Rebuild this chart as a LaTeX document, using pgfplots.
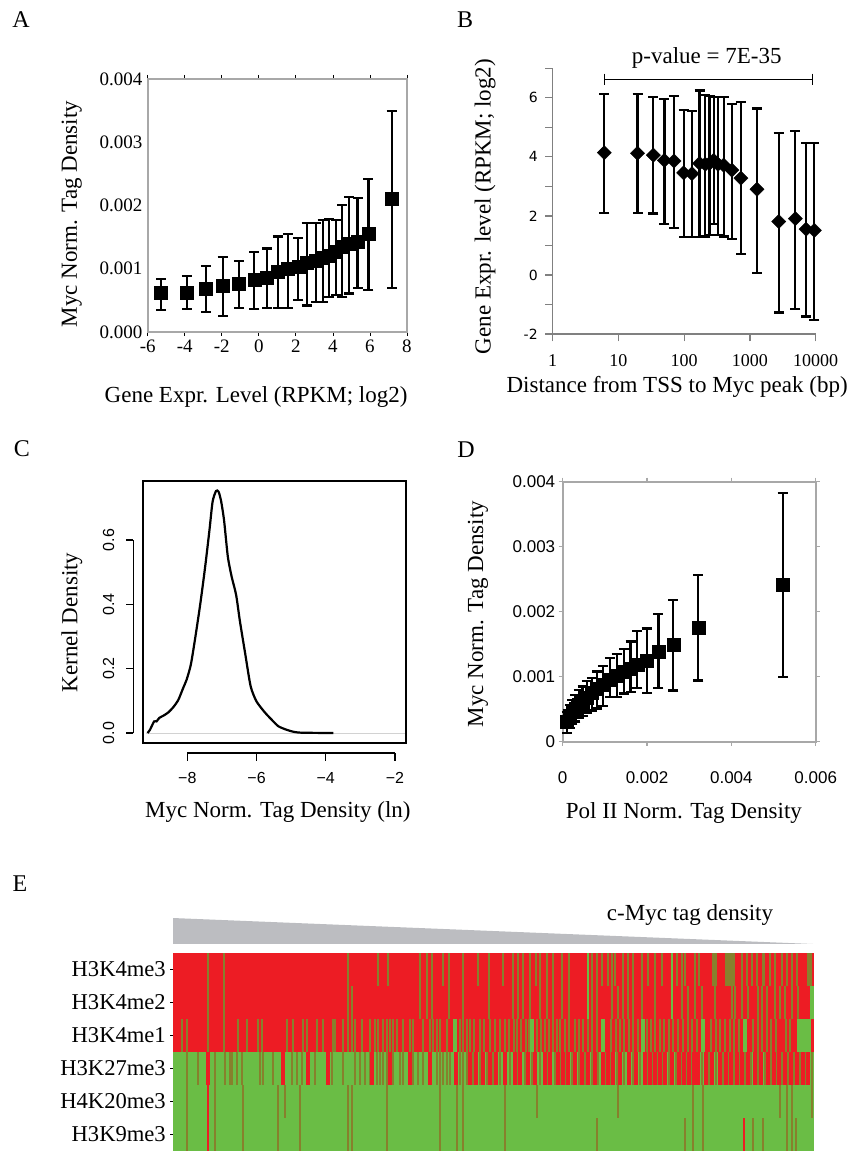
\documentclass[border=0pt]{standalone}
\usepackage{pgfplots}
\usepackage{pgfplotstable}
\pgfplotsset{compat=1.18}
\usepackage{fontspec}
\setmainfont{Liberation Serif}
\newfontfamily\arialf{Liberation Sans}
\newfontfamily\verdf{DejaVu Sans}
\definecolor{hred}{RGB}{237,28,36}
\definecolor{hgreen}{RGB}{106,189,69}
\definecolor{holive}{RGB}{135,128,45}
\definecolor{tgrey}{RGB}{188,189,193}
\definecolor{boxgrey}{RGB}{168,168,168}
\newcommand{\lab}{\fontsize{23}{27}\selectfont}

\pgfplotstableread{
x y top bot
-5.28 0.000616 0.000837 0.000342
-3.89 0.000626 0.000879 0.000358
-2.86 0.00069 0.00104 0.000316
-1.95 0.000737 0.00119 0.000258
-1.07 0.000758 0.00112 0.000379
-0.24 0.000826 0.00126 0.000358
0.45 0.000863 0.00132 0.000379
1.03 0.000958 0.00151 0.000379
1.57 0.000995 0.00155 0.000379
2.13 0.00104 0.00149 0.00051
2.58 0.00109 0.00172 0.00042
3.09 0.00113 0.00172 0.00047
3.45 0.00117 0.00177 0.00048
3.79 0.00121 0.00179 0.00055
4.15 0.00127 0.00177 0.00058
4.51 0.00135 0.00201 0.00055
4.87 0.00139 0.00213 0.00061
5.33 0.00143 0.00212 0.00069
5.92 0.00155 0.00242 0.00067
7.17 0.00211 0.00349 0.00069
}\dataA

\pgfplotstableread{
x y top bot
6.1 4.14 6.12 2.11
19.5 4.12 6.12 2.11
34 4.06 6.03 2.08
50 3.88 5.97 1.72
70 3.86 6.06 1.58
98 3.46 5.59 1.29
131 3.43 5.55 1.29
171 3.78 6.25 1.29
209 3.75 6.10 1.30
243 3.78 6.05 1.35
280 3.88 6.02 1.72
326 3.75 6.02 1.35
398 3.72 6.02 1.30
532 3.55 5.78 1.23
730 3.28 5.85 0.72
1279 2.90 5.64 0.06
2733 1.81 4.80 -1.27
4900 1.91 4.88 -1.14
7130 1.55 4.48 -1.41
9550 1.51 4.48 -1.53
}\dataB

\pgfplotstableread{
x y
-9.15 0
-9.08 0.010
-8.96 0.036
-8.89 0.036
-8.81 0.047
-8.69 0.054
-8.55 0.064
-8.40 0.081
-8.26 0.103
-8.12 0.140
-8.02 0.166
-7.90 0.212
-7.78 0.290
-7.63 0.398
-7.49 0.512
-7.36 0.631
-7.27 0.719
-7.17 0.752
-7.10 0.750
-7.03 0.724
-6.94 0.662
-6.83 0.548
-6.72 0.486
-6.59 0.429
-6.48 0.347
-6.33 0.248
-6.17 0.145
-6.00 0.098
-5.76 0.064
-5.56 0.041
-5.37 0.021
-5.13 0.010
-4.94 0.004
-4.70 0.001
-3.78 0
}\dataC

\pgfplotstableread{
x y top bot
0.000095 0.00031 0.00046 0.00013
0.00017 0.0004 0.00057 0.00021
0.00023 0.00046 0.00064 0.00027
0.0003 0.00051 0.00072 0.00031
0.00038 0.00057 0.00079 0.00036
0.00047 0.00062 0.00085 0.0004
0.00057 0.00068 0.00093 0.00044
0.00069 0.00075 0.00098 0.00048
0.00081 0.00081 0.00108 0.00051
0.00095 0.00087 0.00116 0.00055
0.00112 0.00095 0.00129 0.00069
0.00128 0.00101 0.00135 0.00069
0.00145 0.00108 0.00142 0.00074
0.00161 0.00113 0.00154 0.00077
0.00177 0.00119 0.0017 0.00082
0.00199 0.00125 0.00174 0.000745
0.00227 0.00138 0.00197 0.00082
0.002625 0.00149 0.00218 0.000787
0.003217 0.00176 0.00257 0.00094
0.005217 0.00241 0.00382 0.00099
}\dataD

\pgfplotsset{
  stripe/.style 2 args={only marks, mark=|, mark size=16.5pt, mark options={draw=#1, line width=#2}},
  errstyle/.style={error bars/.cd, y dir=both, y explicit,
     error bar style={line width=2.2pt, black},
     error mark=-,
     error mark options={rotate=90, line width=2.2pt, mark size=5pt, black}},
}

\begin{document}
\begin{tikzpicture}
\useasboundingbox (0pt,0pt) rectangle (851pt,1151pt);
\node[font=\fontsize{24}{28}\selectfont] at (21pt,1131pt) {A};
\node[font=\fontsize{24}{28}\selectfont] at (465pt,1131pt) {B};
\node[font=\fontsize{24}{28}\selectfont] at (22pt,702pt) {C};
\node[font=\fontsize{24}{28}\selectfont] at (466pt,701pt) {D};
\node[font=\fontsize{24}{28}\selectfont] at (20pt,267pt) {E};

% ---------------- A
\begin{axis}[at={(147.7pt,819pt)}, anchor=south west, scale only axis,
  width=259.3pt, height=253pt,
  xmin=-6, xmax=8, ymin=0, ymax=0.004,
  axis line style={boxgrey, line width=1.8pt},
  xtick={-6,-4,-2,0,2,4,6,8}, xticklabels={-6,-4,-2,0,2,4,6,8},
  ytick={0,0.001,0.002,0.003,0.004}, yticklabels={0.000,0.001,0.002,0.003,0.004},
  scaled ticks=false,
  tick align=outside, major tick length=4pt,
  xtick style={black, line width=0.8pt}, ytick style={draw=none},
  tick label style={font=\fontsize{19}{22}\selectfont},
  yticklabel style={inner xsep=1pt},
  xlabel={Gene Expr. Level (RPKM; log2)},
  ylabel={Myc Norm. Tag Density},
  label style={font=\lab},
  xlabel style={at={(axis description cs:0.418,-0.257)}, anchor=center},
  ylabel style={at={(axis description cs:-0.293,0.466)}, anchor=center},
  clip=false]
\addplot[black, only marks, mark=square*, mark size=6.5pt, errstyle]
  table[x=x, y=y, y error plus expr=\thisrow{top}-\thisrow{y}, y error minus expr=\thisrow{y}-\thisrow{bot}] {\dataA};
\end{axis}

% ---------------- B
\begin{axis}[at={(552.7pt,817pt)}, anchor=south west, scale only axis,
  width=263pt, height=265.7pt,
  xmode=log, xmin=1, xmax=10000, ymin=-2, ymax=7,
  axis x line*=bottom, axis y line*=left,
  axis line style={-, gray, line width=1.3pt},
  xtick={1,10,100,1000,10000}, xticklabels={1,10,100,1000,10000},
  xminorticks=false,
  ytick={-2,-1,0,1,2,3,4,5,6,7}, yticklabels={-2,,0,,2,,4,,6,},
  tick align=outside, major tick length=7.5pt,
  tick style={gray, line width=1.2pt},
  xticklabel style={font=\fontsize{18}{21}\selectfont, yshift=-10pt},
  yticklabel style={font=\verdf\fontsize{14}{17}\selectfont, xshift=-4pt},
  xlabel={Distance from TSS to Myc peak (bp)},
  ylabel={Gene Expr. level (RPKM; log2)},
  label style={font=\lab},
  xlabel style={at={(axis description cs:0.473,-0.2)}, anchor=center},
  ylabel style={at={(axis description cs:-0.257,0.48)}, anchor=center},
  clip=false]
\addplot[black, line width=1.3pt, mark=|, mark size=5.5pt, mark options={line width=1.3pt}]
  coordinates {(6.1,6.63) (9000,6.63)};
\node[font=\lab] at (axis cs:220,7.36) {p-value = 7E-35};
\addplot[black, only marks, mark=square*, mark size=5pt, mark options={rotate=45}, errstyle]
  table[x=x, y=y, y error plus expr=\thisrow{top}-\thisrow{y}, y error minus expr=\thisrow{y}-\thisrow{bot}] {\dataB};
\end{axis}

% ---------------- C
\begin{axis}[at={(142.7pt,408pt)}, anchor=south west, scale only axis,
  width=263pt, height=262pt,
  xmin=-9.29, xmax=-1.69, ymin=-0.031, ymax=0.783,
  xtick=\empty, ytick=\empty,
  axis line style={black, line width=2.2pt},
  xlabel={Myc Norm. Tag Density (ln)},
  ylabel={Kernel Density},
  label style={font=\lab},
  xlabel style={at={(axis description cs:0.514,-0.263)}, anchor=center},
  ylabel style={at={(axis description cs:-0.269,0.46)}, anchor=center},
  clip=false]
\addplot[gray!35, line width=0.8pt] coordinates {(-9.2,0) (-1.72,0)};
\addplot[black, line width=2.2pt, smooth, tension=0.4] table[x=x,y=y] {\dataC};
% R-style axes
\draw[line width=1.3pt] ([xshift=-9.4pt]axis cs:-9.29,0) -- ([xshift=-9.4pt]axis cs:-9.29,0.6);
\draw[line width=1.3pt] ([xshift=-9.4pt]axis cs:-9.29,0) -- ([xshift=-17pt]axis cs:-9.29,0);
\draw[line width=1.3pt] ([xshift=-9.4pt]axis cs:-9.29,0.2) -- ([xshift=-17pt]axis cs:-9.29,0.2);
\draw[line width=1.3pt] ([xshift=-9.4pt]axis cs:-9.29,0.4) -- ([xshift=-17pt]axis cs:-9.29,0.4);
\draw[line width=1.3pt] ([xshift=-9.4pt]axis cs:-9.29,0.6) -- ([xshift=-17pt]axis cs:-9.29,0.6);
\node[rotate=90, font=\arialf\fontsize{16}{19}\selectfont] at ([xshift=-34pt]axis cs:-9.29,0) {0.0};
\node[rotate=90, font=\arialf\fontsize{16}{19}\selectfont] at ([xshift=-34pt]axis cs:-9.29,0.2) {0.2};
\node[rotate=90, font=\arialf\fontsize{16}{19}\selectfont] at ([xshift=-34pt]axis cs:-9.29,0.4) {0.4};
\node[rotate=90, font=\arialf\fontsize{16}{19}\selectfont] at ([xshift=-34pt]axis cs:-9.29,0.6) {0.6};
\draw[line width=1.3pt] ([yshift=-10pt]axis cs:-8,-0.031) -- ([yshift=-10pt]axis cs:-2,-0.031);
\draw[line width=1.3pt] ([yshift=-10pt]axis cs:-8,-0.031) -- ([yshift=-18pt]axis cs:-8,-0.031);
\draw[line width=1.3pt] ([yshift=-10pt]axis cs:-6,-0.031) -- ([yshift=-18pt]axis cs:-6,-0.031);
\draw[line width=1.3pt] ([yshift=-10pt]axis cs:-4,-0.031) -- ([yshift=-18pt]axis cs:-4,-0.031);
\draw[line width=1.3pt] ([yshift=-10pt]axis cs:-2,-0.031) -- ([yshift=-18pt]axis cs:-2,-0.031);
\node[font=\arialf\fontsize{16}{19}\selectfont] at ([yshift=-35pt]axis cs:-8,-0.031) {−8};
\node[font=\arialf\fontsize{16}{19}\selectfont] at ([yshift=-35pt]axis cs:-6,-0.031) {−6};
\node[font=\arialf\fontsize{16}{19}\selectfont] at ([yshift=-35pt]axis cs:-4,-0.031) {−4};
\node[font=\arialf\fontsize{16}{19}\selectfont] at ([yshift=-35pt]axis cs:-2,-0.031) {−2};
\end{axis}

% ---------------- D
\begin{axis}[at={(562.7pt,409.3pt)}, anchor=south west, scale only axis,
  width=253pt, height=260pt,
  xmin=0, xmax=0.006, ymin=0, ymax=0.004,
  axis line style={boxgrey, line width=1.8pt},
  xtick={0,0.002,0.004,0.006}, xticklabels={0,0.002,0.004,0.006},
  ytick={0,0.001,0.002,0.003,0.004}, yticklabels={0,0.001,0.002,0.003,0.004},
  scaled ticks=false,
  tick align=outside, major tick length=4pt,
  tick style={boxgrey, line width=1.2pt},
  tick label style={font=\arialf\fontsize{17}{20}\selectfont},
  xticklabel style={yshift=-22pt},
  xlabel={Pol II Norm. Tag Density},
  ylabel={Myc Norm. Tag Density},
  label style={font=\lab},
  xlabel style={at={(axis description cs:0.479,-0.274)}, anchor=center},
  ylabel style={at={(axis description cs:-0.335,0.491)}, anchor=center},
  clip=false]
\addplot[black, only marks, mark=square*, mark size=6.5pt, errstyle]
  table[x=x, y=y, y error plus expr=\thisrow{top}-\thisrow{y}, y error minus expr=\thisrow{y}-\thisrow{bot}] {\dataD};
\end{axis}

% ---------------- E
\begin{axis}[at={(173pt,0pt)}, anchor=south west, scale only axis,
  width=641pt, height=198pt,
  xmin=173, xmax=814, ymin=0, ymax=6,
  axis x line=none, axis y line*=left,
  axis line style={draw=none},
  xtick=\empty,
  ytick={0.5,1.5,2.5,3.5,4.5,5.5},
  yticklabels={H3K9me3,H4K20me3,H3K27me3,H3K4me1,H3K4me2,H3K4me3},
  tick align=outside, major tick length=3pt,
  ytick style={black, line width=1pt},
  yticklabel style={font=\fontsize{22.6}{26}\selectfont, inner xsep=4pt},
  clip=false]
\addplot[fill=tgrey, draw=none] coordinates {(173,6.273) (813,6.273) (173,7.06)} -- cycle;
\node[font=\lab] at (axis cs:690,7.15) {c-Myc tag density};
\addplot[fill=hred, draw=none] coordinates {(173,3) (814,3) (814,6) (173,6)} -- cycle;
\addplot[fill=hgreen, draw=none] coordinates {(173,0) (814,0) (814,3) (173,3)} -- cycle;
% Row H3K4me3
\addplot[stripe={holive}{1.8pt}] table[row sep=\\, y expr=5.5] {x\\ 208\\ 224\\ 348\\ 378\\ 388\\ 420\\ 427\\ 432\\ 443\\ 449\\ 463\\ 478\\ 489\\ 503\\ 513\\ 518\\ 523\\ 530\\ 536\\ 540\\ 547\\ 553\\ 562\\ 569\\ 592\\ 597\\ 602\\ 608\\ 612\\ 615\\ 623\\ 628\\ 633\\ 642\\ 648\\ 655\\ 662\\ 677\\ 682\\ 685\\ 695\\ 699\\ 742\\ 747\\ 752\\ 757\\ 770\\ 775\\ 782\\ 787\\ 792\\ 797\\};
\addplot[stripe={holive}{5pt}] table[row sep=\\, y expr=5.5] {x\\ 714.5\\ 809.5\\};
\addplot[stripe={holive}{10pt}] table[row sep=\\, y expr=5.5] {x\\ 730\\};
\addplot[stripe={holive}{3pt}] table[row sep=\\, y expr=5.5] {x\\ 763.5\\};
\addplot[stripe={hgreen}{1.8pt}] table[row sep=\\, y expr=5.5] {x\\ 588\\ 672\\};
% Row H3K4me2
\addplot[stripe={holive}{1.8pt}] table[row sep=\\, y expr=4.5] {x\\ 208\\ 224\\ 348\\ 352\\ 420\\ 427\\ 432\\ 449\\ 463\\ 489\\ 513\\ 518\\ 523\\ 530\\ 540\\ 547\\ 553\\ 562\\ 569\\ 592\\ 597\\ 612\\ 618\\ 623\\ 628\\ 633\\ 642\\ 655\\ 682\\ 688\\ 695\\ 702\\ 715\\ 732\\ 735\\ 742\\ 748\\ 758\\ 762\\ 767\\ 775\\ 780\\ 785\\ 792\\ 798\\};
\addplot[stripe={hgreen}{1.8pt}] table[row sep=\\, y expr=4.5] {x\\ 588\\ 672\\};
\addplot[stripe={hgreen}{4pt}] table[row sep=\\, y expr=4.5] {x\\ 811.5\\};
% Row H3K4me1
\addplot[stripe={holive}{1.8pt}] table[row sep=\\, y expr=3.5] {x\\ 182\\ 187\\ 208\\ 224\\ 238\\ 247\\ 258\\ 262\\ 287\\ 293\\ 303\\ 307\\ 317\\ 323\\ 333\\ 335\\ 343\\ 348\\ 352\\ 355\\ 362\\ 370\\ 375\\ 378\\ 383\\ 387\\ 390\\ 393\\ 397\\ 403\\ 410\\ 413\\ 423\\ 430\\ 433\\ 437\\ 440\\ 447\\ 460\\ 463\\ 467\\ 470\\ 474\\ 480\\ 484\\ 490\\ 495\\ 500\\ 505\\ 509\\ 514\\ 517\\ 521\\ 526\\ 529\\ 537\\ 541\\ 545\\ 549\\ 553\\ 557\\ 560\\ 565\\ 569\\ 575\\ 579\\ 583\\ 588\\ 592\\ 597\\ 611\\ 616\\ 620\\ 624\\ 629\\ 633\\ 638\\ 647\\ 651\\ 655\\ 660\\ 664\\ 669\\ 673\\ 678\\ 683\\ 688\\ 692\\ 697\\ 711\\ 716\\ 720\\ 725\\ 730\\ 734\\ 739\\ 753\\ 758\\ 762\\ 767\\ 771\\ 776\\ 786\\ 790\\};
\addplot[stripe={hgreen}{4pt}] table[row sep=\\, y expr=3.5] {x\\ 454.5\\ 532\\ 603\\ 643\\ 703\\ 745\\};
\addplot[stripe={hgreen}{14pt}] table[row sep=\\, y expr=3.5] {x\\ 804\\};
% Row H3K27me3
\addplot[stripe={holive}{1.8pt}] table[row sep=\\, y expr=2.5] {x\\ 187\\ 198\\ 215\\ 225\\ 230\\ 232\\ 237\\ 242\\ 260\\ 263\\ 273\\ 282\\ 292\\ 297\\ 302\\ 315\\ 332\\ 343\\ 355\\ 360\\ 365\\ 370\\ 377\\ 380\\ 383\\ 387\\ 393\\ 400\\ 403\\ 413\\ 418\\ 423\\ 437\\ 440\\ 443\\ 447\\ 450\\ 460\\ 463\\ 467\\ 473\\ 480\\ 487\\ 493\\ 500\\ 510\\ 518\\ 525\\ 532\\ 540\\ 548\\ 555\\ 561\\ 566\\ 572\\ 579\\ 585\\ 592\\ 598\\ 606\\ 611\\ 617\\ 624\\ 633\\ 640\\ 648\\ 653\\ 658\\ 663\\ 669\\ 676\\ 682\\ 687\\ 692\\ 696\\ 702\\ 709\\ 716\\ 723\\ 729\\ 734\\ 740\\ 745\\ 751\\ 758\\ 765\\ 771\\ 777\\ 782\\ 788\\ 794\\ 800\\ 806\\ 812\\};
\addplot[stripe={hred}{3.6pt}] table[row sep=\\, y expr=2.5] {x\\ 208\\ 283\\ 308\\ 328\\ 372\\ 390\\ 410\\ 430\\ 456\\ 470\\ 476\\ 483\\ 490\\ 496\\ 505\\ 515\\ 520\\ 528\\ 535\\ 545\\ 550\\ 558\\ 563\\ 568\\ 575\\ 582\\ 588\\ 595\\ 603\\ 608\\ 613\\ 620\\ 629\\ 636\\ 645\\ 650\\ 655\\ 660\\ 665\\ 672\\ 679\\ 684\\ 689\\ 694\\ 698\\ 706\\ 712\\ 720\\ 726\\ 731\\ 737\\ 742\\ 748\\ 755\\ 761\\ 768\\ 774\\ 779\\ 785\\ 791\\ 797\\ 803\\ 808\\};
% Row H4K20me3
\addplot[stripe={holive}{1.8pt}] table[row sep=\\, y expr=1.5] {x\\ 187\\ 215\\ 243\\ 278\\ 285\\ 300\\ 348\\ 352\\ 387\\ 440\\ 457\\ 463\\ 505\\ 537\\ 618\\ 693\\ 703\\ 780\\ 787\\ 792\\ 812\\};
\addplot[stripe={hred}{1.8pt}] table[row sep=\\, y expr=1.5] {x\\ 208\\};
% Row H3K9me3
\addplot[stripe={holive}{1.8pt}] table[row sep=\\, y expr=0.5] {x\\ 187\\ 215\\ 243\\ 278\\ 300\\ 348\\ 352\\ 387\\ 440\\ 457\\ 463\\ 505\\ 597\\ 685\\ 693\\ 703\\ 753\\ 763\\ 787\\ 792\\ 796\\};
\addplot[stripe={hred}{1.8pt}] table[row sep=\\, y expr=0.5] {x\\ 208\\ 744\\};
\end{axis}
\end{tikzpicture}
\end{document}
